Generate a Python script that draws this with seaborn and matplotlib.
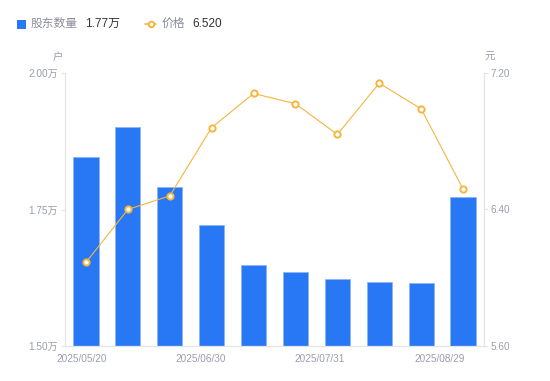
import matplotlib
matplotlib.use("Agg")
import matplotlib.pyplot as plt
import seaborn as sns
import pandas as pd
import numpy as np
from matplotlib.lines import Line2D
from matplotlib.patches import Rectangle

# ---- data ----
periods = list(range(10))
holders = [1.846, 1.901, 1.791, 1.722, 1.648, 1.636, 1.623, 1.617, 1.615, 1.773]  # 万户
prices = [6.09, 6.40, 6.48, 6.88, 7.08, 7.02, 6.84, 7.14, 6.99, 6.52]
date_labels = ["2025/05/20", "2025/06/30", "2025/07/31", "2025/08/29"]
left_ticks = [1.50, 1.75, 2.00]
right_ticks = [5.60, 6.40, 7.20]

sns.set_theme(style="white")
plt.rcParams['font.family'] = ['Liberation Sans', 'Noto Sans CJK SC', 'DejaVu Sans']

BLUE = "#2878F5"
ORANGE = "#F6B53D"
GREY = "#9A9DAE"
AXC = "#E3E4E8"

W, H = 550, 381
fig = plt.figure(figsize=(W / 100, H / 100), dpi=100)
ax = fig.add_axes([65 / W, (H - 346) / H, (484 - 65) / W, (346 - 73) / H])

df = pd.DataFrame({"period": periods, "holders": holders, "price": prices})
sns.barplot(data=df, x="period", y="holders", ax=ax, color=BLUE, width=0.6,
            saturation=1, edgecolor="#8DB6F9", linewidth=0.6)
ax.set_ylim(1.50, 2.00)
ax.set_xlim(-0.5, 9.5)
ax.set_yticks(left_ticks)
ax.set_yticklabels([f"{v:.2f}万" for v in left_ticks], fontsize=7.2, color=GREY)
ax.tick_params(axis="y", length=3, width=0.8, color=AXC, pad=2)
ax.set_xlabel("")
ax.set_ylabel("")

label_pos = [-0.1, 2.74, 5.58, 8.45]
ax.set_xticks(label_pos)
ax.set_xticklabels(date_labels, fontsize=7.2, color=GREY)
ax.tick_params(axis="x", length=0, pad=6)

for s in ["top", "right"]:
    ax.spines[s].set_visible(False)
ax.spines["left"].set_color(AXC)
ax.spines["bottom"].set_color(AXC)
ax.spines["left"].set_linewidth(0.9)
ax.spines["bottom"].set_linewidth(0.9)

ax2 = ax.twinx()
sns.lineplot(data=df, x="period", y="price", ax=ax2, color=ORANGE, linewidth=0.8,
             marker="o", markersize=4.5, markerfacecolor="white",
             markeredgecolor=ORANGE, markeredgewidth=1.4)
ax2.set_ylim(5.60, 7.20)
ax2.set_xlim(-0.5, 9.5)
ax2.set_yticks(right_ticks)
ax2.set_yticklabels([f"{v:.2f}" for v in right_ticks], fontsize=7.2, color=GREY)
ax2.tick_params(axis="y", length=3, width=0.8, color=AXC, pad=2)
ax2.set_ylabel("")
ax2.set_xlabel("")
for s in ["top", "left", "bottom"]:
    ax2.spines[s].set_visible(False)
ax2.spines["right"].set_color(AXC)
ax2.spines["right"].set_linewidth(0.9)

# unit labels
fig.text(58 / W, 1 - 57 / H, "户", fontsize=7.5, color=GREY, ha="center", va="center")
fig.text(490 / W, 1 - 57 / H, "元", fontsize=7.5, color=GREY, ha="center", va="center")

# legend
ly = 1 - 24 / H
fig.patches.append(Rectangle((17 / W, 1 - 28.5 / H), 8.5 / W, 8.5 / H, transform=fig.transFigure,
                             facecolor=BLUE, edgecolor="none", figure=fig))
fig.text(31 / W, ly, "股东数量", fontsize=8.5, color="#8A8D9B", va="center")
fig.text(85 / W, ly, f"{holders[-1]:.2f}万", fontsize=8.5, color="#333333", va="center")
fig.lines.append(Line2D([145 / W, 156 / W], [ly, ly], transform=fig.transFigure, color=ORANGE,
                        linewidth=1.2, figure=fig))
fig.lines.append(Line2D([150.5 / W], [ly], transform=fig.transFigure, marker="o", markersize=4,
                        markerfacecolor="white", markeredgecolor=ORANGE, markeredgewidth=1.4,
                        linestyle="none", figure=fig))
fig.text(162 / W, ly, "价格", fontsize=8.5, color="#8A8D9B", va="center")
fig.text(192 / W, ly, f"{prices[-1]:.3f}", fontsize=8.5, color="#333333", va="center")

fig.savefig("out.png", dpi=100)
